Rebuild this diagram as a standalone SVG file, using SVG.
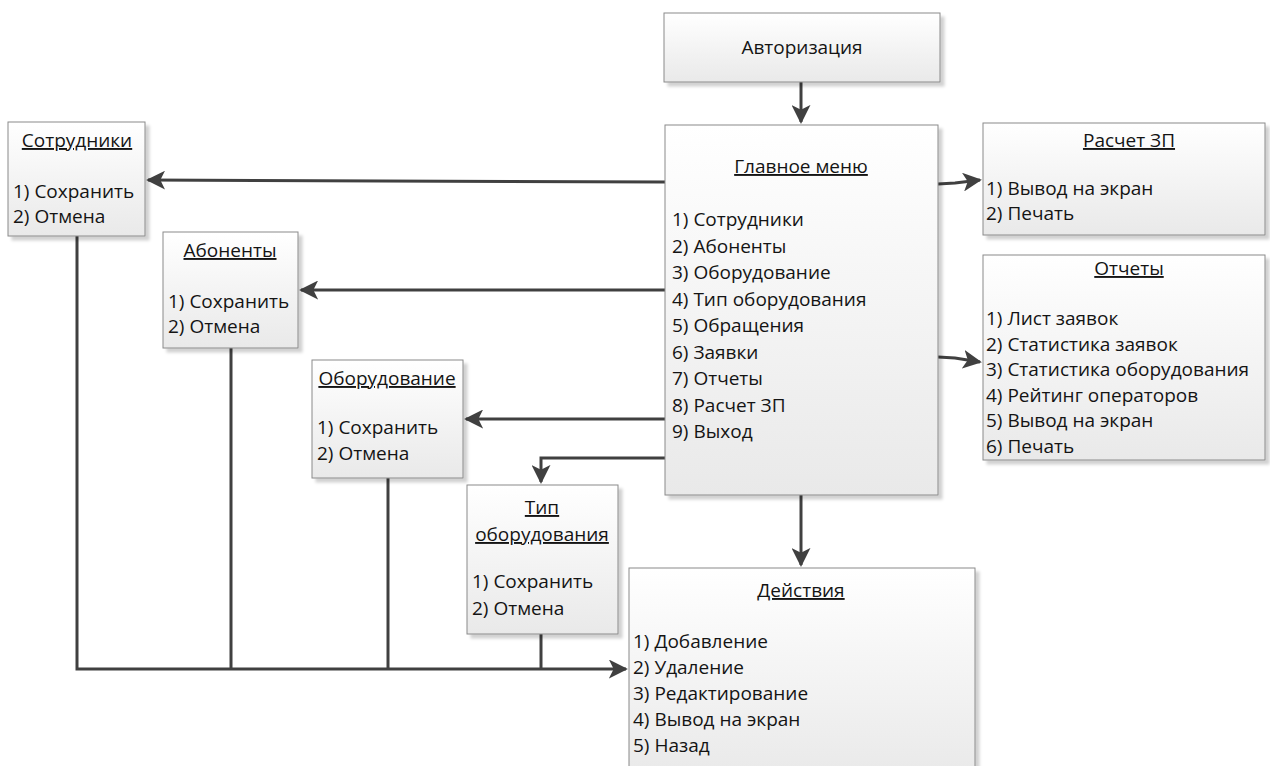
<svg xmlns="http://www.w3.org/2000/svg" width="1270" height="766" viewBox="0 0 1270 766">
<defs>
<linearGradient id="g" x1="0" y1="0" x2="0" y2="1">
<stop offset="0" stop-color="#ffffff"/>
<stop offset="1" stop-color="#e9e9e9"/>
</linearGradient>
<filter id="sh" x="-10%" y="-10%" width="130%" height="130%">
<feDropShadow dx="4" dy="4" stdDeviation="1.5" flood-color="#000" flood-opacity="0.18"/>
</filter>
<marker id="ah" viewBox="0 0 10 10" refX="9" refY="5" markerWidth="19" markerHeight="19" markerUnits="userSpaceOnUse" orient="auto">
<path d="M0,0 L10,5 L0,10 L2.5,5 z" fill="#404040"/>
</marker>
<style>
.box{fill:url(#g);stroke:#8a8a8a;stroke-width:1;filter:url(#sh)}
text{font-family:"Open Sans","Liberation Sans",sans-serif;font-size:19px;fill:#141414}
.t{text-anchor:middle;text-decoration:underline}
.c{text-anchor:middle}
.ln{fill:none;stroke:#404040;stroke-width:3}
</style>
</defs>
<rect width="1270" height="766" fill="#fff"/>

<g id="connectors">
<path class="ln" d="M801,82 L801,122" marker-end="url(#ah)"/>
<path class="ln" d="M665,182 L148,180" marker-end="url(#ah)"/>
<path class="ln" d="M665,290 L301,290" marker-end="url(#ah)"/>
<path class="ln" d="M665,419 L466,419" marker-end="url(#ah)"/>
<path class="ln" d="M665,458 L541,458 L541,482" marker-end="url(#ah)"/>
<path class="ln" d="M801,495 L801,565" marker-end="url(#ah)"/>
<path class="ln" d="M938,184 L955,183 L980,180" marker-end="url(#ah)"/>
<path class="ln" d="M938,357 L955,358 L980,362" marker-end="url(#ah)"/>
<path class="ln" d="M77,236 L77,669 L626,669" marker-end="url(#ah)"/>
<path class="ln" d="M231,348 L231,669"/>
<path class="ln" d="M388,478 L388,669"/>
<path class="ln" d="M541,634 L541,669"/>
</g>

<g id="auth">
<rect class="box" x="664" y="13" width="276" height="69"/>
<text class="c" x="802" y="54">Авторизация</text>
</g>

<g id="main">
<rect class="box" x="665" y="125" width="273" height="370"/>
<text class="t" x="801" y="173">Главное меню</text>
<text x="672" y="226">1) Сотрудники</text>
<text x="672" y="252.5">2) Абоненты</text>
<text x="672" y="279">3) Оборудование</text>
<text x="672" y="305.5">4) Тип оборудования</text>
<text x="672" y="332">5) Обращения</text>
<text x="672" y="358.5">6) Заявки</text>
<text x="672" y="385">7) Отчеты</text>
<text x="672" y="411.5">8) Расчет ЗП</text>
<text x="672" y="438">9) Выход</text>
</g>

<g id="employees">
<rect class="box" x="8" y="122" width="137" height="114"/>
<text class="t" x="77" y="147">Сотрудники</text>
<text x="13" y="198">1) Сохранить</text>
<text x="13" y="223">2) Отмена</text>
</g>

<g id="subscribers">
<rect class="box" x="163" y="232" width="135" height="116"/>
<text class="t" x="230" y="257">Абоненты</text>
<text x="168" y="308">1) Сохранить</text>
<text x="168" y="333">2) Отмена</text>
</g>

<g id="equipment">
<rect class="box" x="312" y="360" width="151" height="118"/>
<text class="t" x="387" y="385">Оборудование</text>
<text x="317" y="434">1) Сохранить</text>
<text x="317" y="460">2) Отмена</text>
</g>

<g id="equiptype">
<rect class="box" x="467" y="485" width="151" height="149"/>
<text class="t" x="542" y="514">Тип</text>
<text class="t" x="542" y="541">оборудования</text>
<text x="472" y="588">1) Сохранить</text>
<text x="472" y="615">2) Отмена</text>
</g>

<g id="actions">
<rect class="box" x="629" y="568" width="346" height="210"/>
<text class="t" x="801" y="597">Действия</text>
<text x="633" y="648">1) Добавление</text>
<text x="633" y="674">2) Удаление</text>
<text x="633" y="700">3) Редактирование</text>
<text x="633" y="726">4) Вывод на экран</text>
<text x="633" y="752">5) Назад</text>
</g>

<g id="salary">
<rect class="box" x="983" y="123" width="282" height="112"/>
<text class="t" x="1129" y="147">Расчет ЗП</text>
<text x="986" y="195">1) Вывод на экран</text>
<text x="986" y="220">2) Печать</text>
</g>

<g id="reports">
<rect class="box" x="983" y="255" width="282" height="205"/>
<text class="t" x="1129" y="275">Отчеты</text>
<text x="986" y="325">1) Лист заявок</text>
<text x="986" y="350.5">2) Статистика заявок</text>
<text x="986" y="376">3) Статистика оборудования</text>
<text x="986" y="401.5">4) Рейтинг операторов</text>
<text x="986" y="427">5) Вывод на экран</text>
<text x="986" y="453">6) Печать</text>
</g>
</svg>
